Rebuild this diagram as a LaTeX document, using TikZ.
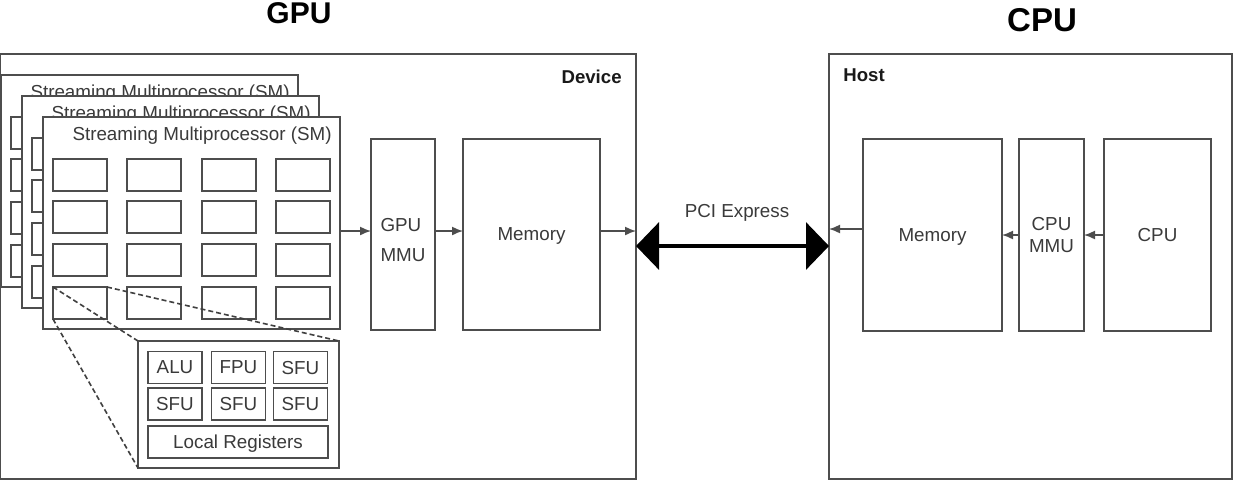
\documentclass[tikz,border=0pt]{standalone}
\usepackage{fontspec}
\setmainfont{Liberation Sans}
\usetikzlibrary{arrows.meta,calc}
\definecolor{boxline}{HTML}{4D4D4D}
\definecolor{boxtext}{HTML}{3A3A3A}
\tikzset{
	unit/.style={draw=boxline, line width=0.75pt, fill=white, inner sep=0pt, outer sep=0pt, text=boxtext, text depth=0pt, font=\fontsize{9.4}{11}\selectfont},
	plaintext/.style={inner sep=0pt, text=boxtext, font=\fontsize{9.4}{11}\selectfont},
	boxlabel/.style={inner sep=0pt, text=black!90, font=\fontsize{9.3}{11}\selectfont\bfseries},
	zoomline/.style={draw=black!75, line width=0.8pt, dash pattern=on 2.5pt off 1.5pt},
	link/.style={draw=boxline, line width=0.75pt, -{Latex[length=5.5pt,width=4.5pt]}},
	bus/.style={draw=black, line width=1.7pt, {Triangle[length=11.5pt,width=23.5pt]}-{Triangle[length=11.5pt,width=23.5pt]}},
}

\begin{document}
\begin{tikzpicture}[x=0.5pt,y=-0.5pt]
		\useasboundingbox (0,0) rectangle (1236,489);
		
		%%%%% TITLES %%%%%
		\node[inner sep=0pt, font=\fontsize{15}{18}\selectfont\bfseries] (gputitle) at (299,13.5) {GPU};
		\node[inner sep=0pt, font=\fontsize{16.5}{20}\selectfont\bfseries] (cputitle) at (1042,20) {CPU};
		
		%%%%% DEVICE %%%%%
		\node[unit, minimum width=318pt, minimum height=212.5pt] (device) at (318,266.5) {};
		\node[boxlabel, anchor=base east] (devicelabel) at (622,83) {Device};
		
		% three stacked SMs, back one first
		\foreach \i in {0,1,2}{
			\node[unit, minimum width=148.5pt, minimum height=106pt, anchor=north west] (sm\i) at ({1+21*\i},{75+21*\i}) {};
			\node[plaintext, anchor=east] (smtitle\i) at ($(sm\i.north east)+(-8,19)$) {Streaming Multiprocessor (SM)};
			\foreach \r [count=\rr] in {42,84,127,170}
				\foreach \c [count=\cc] in {10,84,159,233}
					\node[unit, minimum width=27pt, minimum height=16pt, anchor=north west] (cell\i-\rr-\cc) at ($(sm\i.north west)+(\c,\r)$) {};
		}
		
		% zoom on one core
		\node[unit, minimum width=100.5pt, minimum height=63.5pt] (detail) at (238.5,404.5) {};
		\node[unit, minimum width=27pt, minimum height=16pt] (alu) at (175,367.5) {ALU};
		\node[unit, minimum width=27pt, minimum height=16pt] (fpu) at (238.5,367.5) {FPU};
		\node[unit, minimum width=27pt, minimum height=16pt] (sfua) at (300.5,367.5) {SFU};
		\node[unit, minimum width=27pt, minimum height=16pt] (sfub) at (175,404) {SFU};
		\node[unit, minimum width=27pt, minimum height=16pt] (sfuc) at (238.5,404) {SFU};
		\node[unit, minimum width=27pt, minimum height=16pt] (sfud) at (300.5,404) {SFU};
		\node[unit, minimum width=90pt, minimum height=16pt] (locreg) at (238,442) {Local Registers};
		
		\draw[zoomline] (cell2-4-1.north west) -- (detail.north west);
		\draw[zoomline] (cell2-4-1.north east) -- (detail.north east);
		\draw[zoomline] (cell2-4-1.south west) -- (detail.south west);
		
		\node[unit, minimum width=32pt, minimum height=95.5pt] (gmmu) at (403,234.5) {};
		\node[plaintext, align=left, font=\fontsize{9.4}{15}\selectfont] (gmmutext) at ($(gmmu.center)+(0,6)$) {GPU\\MMU};
		\node[unit, minimum width=68.5pt, minimum height=95.5pt] (gmem) at (531.5,234.5) {Memory};
		
		\coordinate (gpulane) at (0,231);
		\draw[link] (sm2.east |- gpulane) -- (gmmu.west |- gpulane);
		\draw[link] (gmmu.east |- gpulane) -- (gmem.west |- gpulane);
		\draw[link] (gmem.east |- gpulane) -- (device.east |- gpulane);
		
		%%%%% HOST %%%%%
		\node[unit, minimum width=201.5pt, minimum height=212.5pt] (host) at (1030.5,266.5) {};
		\node[boxlabel, anchor=base west] (hostlabel) at (843,81) {Host};
		
		\node[unit, minimum width=69.5pt, minimum height=96pt] (hmem) at (932.5,235) {Memory};
		\node[unit, minimum width=32.5pt, minimum height=96pt, align=center] (cmmu) at (1051.5,235) {CPU\\MMU};
		\node[unit, minimum width=53.5pt, minimum height=96pt] (cpu) at (1157.5,235) {CPU};
		
		\coordinate (hostlane) at (0,229);
		\draw[link] (cpu.west) -- (cmmu.east);
		\draw[link] (cmmu.west) -- (hmem.east);
		\draw[link] (hmem.west |- hostlane) -- (host.west |- hostlane);
		
		%%%%% BUS %%%%%
		\coordinate (pcilane) at (0,246);
		\draw[bus] (device.east |- pcilane) -- (host.west |- pcilane);
		\node[plaintext] (pcilabel) at (737,213) {PCI Express};
		
	\end{tikzpicture}
\end{document}
